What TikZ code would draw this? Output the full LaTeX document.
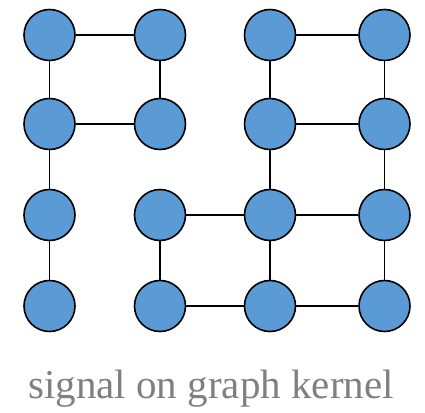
\documentclass[tikz,border=0pt]{standalone}
\usepackage{fontspec}
\setmainfont{Liberation Serif}
\begin{document}
\begin{tikzpicture}[x=1pt,y=1pt,
  vert/.style={circle,draw=black,line width=1.6pt,fill={rgb,255:red,91;green,155;blue,213},minimum size=51pt,inner sep=0pt},
  edge/.style={line width=1.6pt,black}]
\useasboundingbox (0,0) rectangle (425,412);
\foreach \r/\y in {1/377,2/288,3/197,4/106}{
  \foreach \c/\x in {1/49.5,2/160,3/270,4/384.5}{
    \node[vert] (n\r\c) at (\x,\y) {};
  }
}
\foreach \a/\b in {n11/n12,n13/n14,n11/n21,n12/n22,n13/n23,n14/n24,n21/n22,n23/n24,n21/n31,n23/n33,n24/n34,n32/n33,n33/n34,n31/n41,n32/n42,n33/n43,n34/n44,n42/n43,n43/n44}{
  \draw[edge] (\a) -- (\b);
}
\node[text={rgb,255:red,128;green,128;blue,128},font=\fontsize{41}{46}\selectfont,anchor=base,inner sep=0pt] (cap) at (211,14) {signal on graph kernel};
\end{tikzpicture}
\end{document}
